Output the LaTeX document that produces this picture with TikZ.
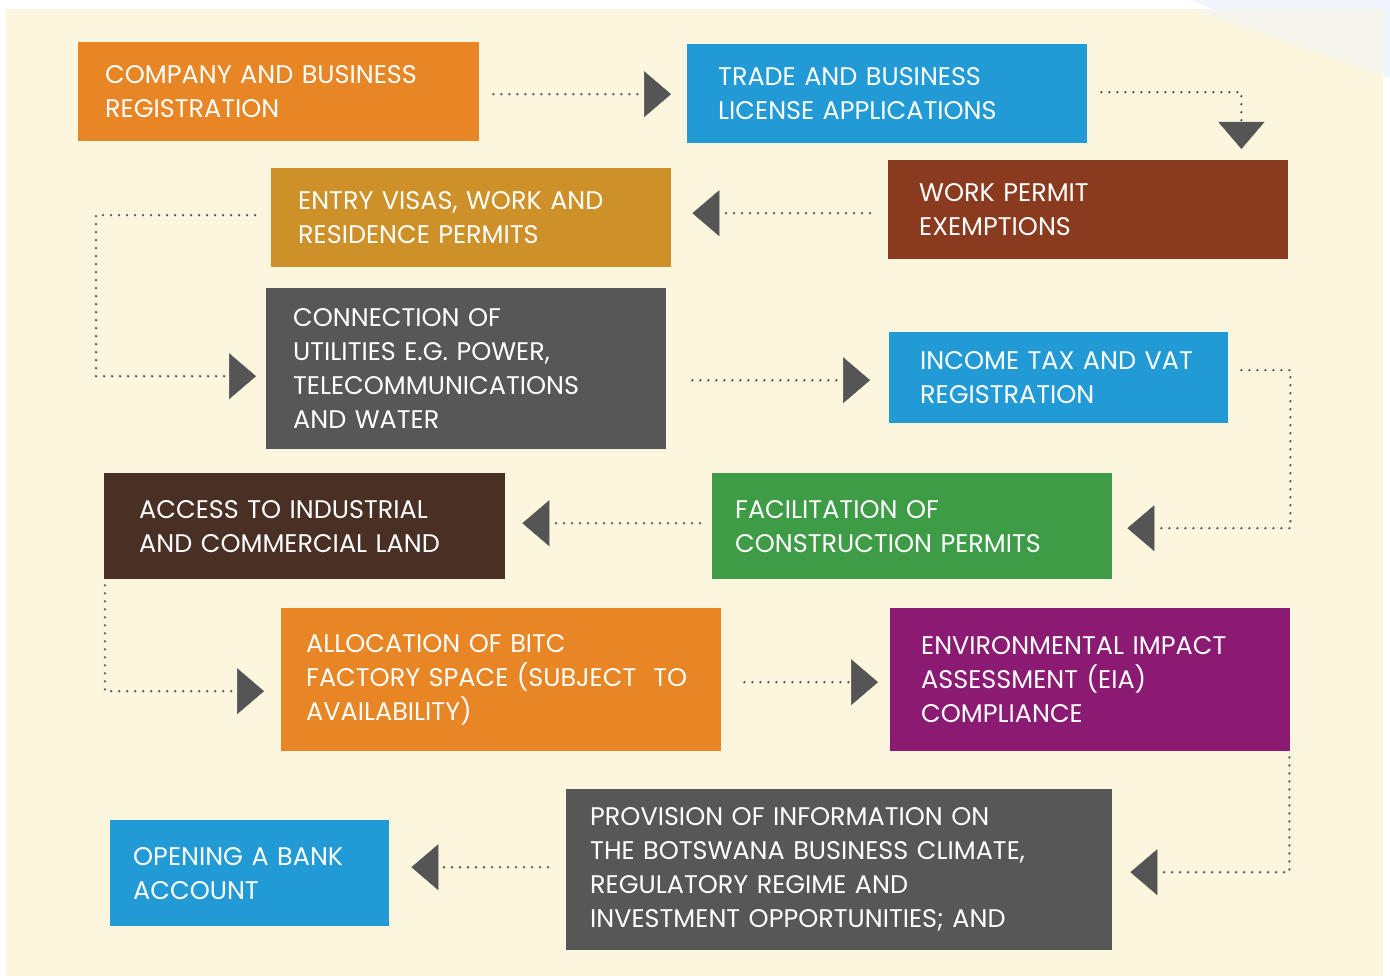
\documentclass[tikz,border=0pt]{standalone}
\usepackage{fontspec}
\setmainfont{Poppins}
\usepackage{tikz}
\usetikzlibrary{arrows.meta, positioning}
\usepackage{xcolor}
\definecolor{cCream}{HTML}{FDF6DF}
\definecolor{cSky}{HTML}{F0F6FC}
\definecolor{cOrange}{HTML}{E88626}
\definecolor{cBlue}{HTML}{229AD6}
\definecolor{cBrown}{HTML}{8A3A1E}
\definecolor{cOchre}{HTML}{CE912A}
\definecolor{cGrey}{HTML}{575757}
\definecolor{cGreen}{HTML}{3E9C47}
\definecolor{cDarkBrown}{HTML}{4A3024}
\definecolor{cPurple}{HTML}{8A1A72}
\definecolor{cArrow}{HTML}{555555}

\begin{document}
\begin{tikzpicture}[x=1pt, y=-1pt,
    stepbox/.style={anchor=north west, rectangle, inner ysep=0pt, text=white, align=left, font=\fontsize{25.5}{34}\selectfont},
    flow/.style={draw=cArrow, line width=2.6pt, line cap=round, dash pattern=on 0pt off 8pt, -{Triangle[length=27pt, width=46pt, line width=0.5pt]}}]
        \fill[white] (0,0) rectangle (1390,976);
        \fill[cSky] (1190,0) -- (1390,0) -- (1390,78) -- cycle;
        \fill[cCream] (6,9) rectangle (1383,976);
        \fill[cSky, opacity=0.45] (1190,9) -- (1383,9) -- (1383,75) -- cycle;
        \node[stepbox, fill=cOrange, minimum width=401pt, minimum height=99pt, text width=347pt, inner xsep=27pt] (company) at (78,42) {COMPANY AND BUSINESS\\REGISTRATION};
        \node[stepbox, fill=cBlue, minimum width=400pt, minimum height=99pt, text width=338pt, inner xsep=31pt] (trade) at (687,44) {TRADE AND BUSINESS\\LICENSE APPLICATIONS};
        \node[stepbox, fill=cBrown, minimum width=400pt, minimum height=99pt, text width=338pt, inner xsep=31pt] (work) at (888,160) {WORK PERMIT\\EXEMPTIONS};
        \node[stepbox, fill=cOchre, minimum width=400pt, minimum height=99pt, text width=346pt, inner xsep=27pt] (entry) at (271,168) {ENTRY VISAS, WORK AND\\RESIDENCE PERMITS};
        \node[stepbox, fill=cGrey, minimum width=400pt, minimum height=161pt, text width=346pt, inner xsep=27pt] (utilities) at (266,288) {CONNECTION OF\\UTILITIES E.G. POWER,\\TELECOMMUNICATIONS\\AND WATER};
        \node[stepbox, fill=cBlue, minimum width=339pt, minimum height=91pt, text width=277pt, inner xsep=31pt] (tax) at (889,332) {INCOME TAX AND VAT\\REGISTRATION};
        \node[stepbox, fill=cGreen, minimum width=400pt, minimum height=106pt, text width=354pt, inner xsep=23pt] (construction) at (712,473) {FACILITATION OF\\CONSTRUCTION PERMITS};
        \node[stepbox, fill=cDarkBrown, minimum width=401pt, minimum height=106pt, text width=331pt, inner xsep=35pt] (land) at (104,473) {ACCESS TO INDUSTRIAL\\AND COMMERCIAL LAND};
        \node[stepbox, fill=cOrange, minimum width=440pt, minimum height=143pt, text width=390pt, inner xsep=25pt] (factory) at (281,608) {ALLOCATION OF BITC\\FACTORY SPACE (SUBJECT\ \ TO\\AVAILABILITY)};
        \node[stepbox, fill=cPurple, minimum width=400pt, minimum height=143pt, text width=338pt, inner xsep=31pt] (eia) at (890,608) {ENVIRONMENTAL IMPACT\\ASSESSMENT (EIA)\\COMPLIANCE};
        \node[stepbox, fill=cGrey, minimum width=546pt, minimum height=161pt, text width=498pt, inner xsep=24pt] (info) at (566,789) {PROVISION OF INFORMATION ON\\THE BOTSWANA BUSINESS CLIMATE,\\REGULATORY REGIME AND\\INVESTMENT OPPORTUNITIES; AND};
        \node[stepbox, fill=cBlue, minimum width=279pt, minimum height=106pt, text width=233pt, inner xsep=23pt] (bank) at (110,820) {OPENING A BANK\\ACCOUNT};
        \draw[flow] ([xshift=14pt, yshift=-2.5pt]company.east) -- ([xshift=-16pt, yshift=-0.5pt]trade.west);
        \draw[flow] ([xshift=14pt, yshift=1.5pt]trade.east) -| ([xshift=-47pt, yshift=11pt]work.north east);
        \draw[flow] ([xshift=-18pt, yshift=-3.5pt]work.west) -- ([xshift=21pt, yshift=4.5pt]entry.east);
        \draw[flow] ([xshift=-16pt, yshift=2.5pt]entry.west) -- ++(-159pt,0pt) |- ([xshift=-10pt, yshift=-7.5pt]utilities.west);
        \draw[flow] ([xshift=26pt, yshift=-11.5pt]utilities.east) -- ([xshift=-19pt, yshift=-2.5pt]tax.west);
        \draw[flow] ([xshift=13pt, yshift=7.5pt]tax.east) -- ++(49pt,0pt) |- ([xshift=15pt, yshift=-2pt]construction.east);
        \draw[flow] ([xshift=-12pt, yshift=3pt]construction.west) -- ([xshift=17pt, yshift=3pt]land.east);
        \draw[flow] ([xshift=1pt, yshift=-6pt]land.south west) |- ([xshift=-17pt, yshift=-11.5pt]factory.west);
        \draw[flow] ([xshift=23pt, yshift=-2.5pt]factory.east) -- ([xshift=-12pt, yshift=-2.5pt]eia.west);
        \draw[flow] ([xshift=-1pt, yshift=-6pt]eia.south east) |- ([xshift=18pt, yshift=-2.5pt]info.east);
        \draw[flow] ([xshift=-18pt, yshift=2.5pt]info.west) -- ([xshift=22pt, yshift=6pt]bank.east);
      \end{tikzpicture}
\end{document}
